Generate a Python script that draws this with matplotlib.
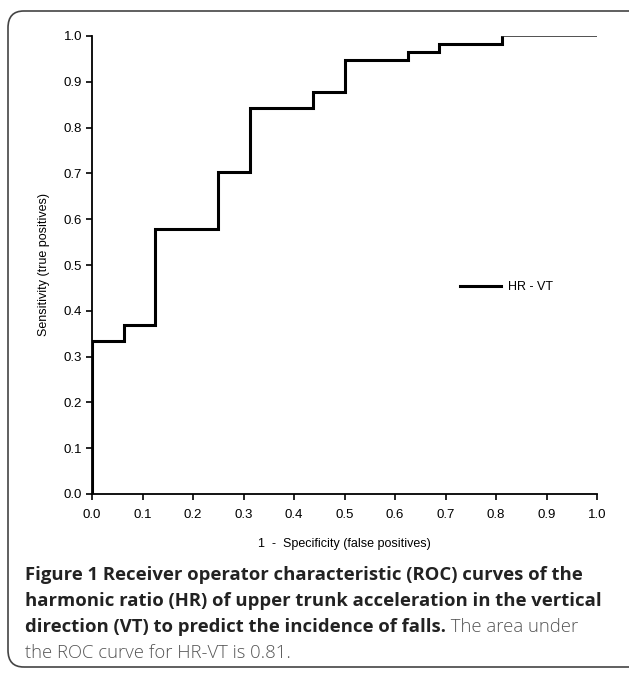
import matplotlib.pyplot as plt
from matplotlib.patches import FancyBboxPatch

# ROC steps (1 - specificity, sensitivity)
fpr = [0.0, 0.0, 0.0625, 0.0625, 0.125, 0.125, 0.25, 0.25, 0.3125, 0.3125,
       0.4375, 0.4375, 0.5, 0.5, 0.625, 0.625, 0.6875, 0.6875, 0.8125, 0.8125]
tpr = [0.0, 0.333, 0.333, 0.368, 0.368, 0.579, 0.579, 0.702, 0.702, 0.842,
       0.842, 0.877, 0.877, 0.947, 0.947, 0.965, 0.965, 0.982, 0.982, 1.0]
top_x = [0.8125, 1.0]
top_y = [1.0, 1.0]
ticks = [0.0, 0.1, 0.2, 0.3, 0.4, 0.5, 0.6, 0.7, 0.8, 0.9, 1.0]
tick_labels = ["0.0", "0.1", "0.2", "0.3", "0.4", "0.5", "0.6", "0.7", "0.8", "0.9", "1.0"]

W, H = 629, 673
fig = plt.figure(figsize=(W / 100, H / 100), dpi=100)
ax = fig.add_axes([92 / W, 1 - 494 / H, 505 / W, 458 / H])

ax.plot(fpr, tpr, color="black", lw=2.2, solid_joinstyle="miter", label="HR - VT")
ax.plot(top_x, top_y, color="#333333", lw=1.2)

ax.set_xlim(0, 1)
ax.set_ylim(0, 1)
for s in ["top", "right"]:
    ax.spines[s].set_visible(False)
for s in ["left", "bottom"]:
    ax.spines[s].set_linewidth(1.3)
ax.set_xticks(ticks)
ax.set_yticks(ticks)
ax.set_xticklabels(tick_labels)
ax.set_yticklabels(tick_labels)
ax.tick_params(direction="out", length=4, width=1.2, labelsize=9.5)
ax.tick_params(axis="x", pad=7)
ax.tick_params(axis="y", pad=3)
for lab in ax.get_xticklabels() + ax.get_yticklabels():
    lab.set_family("Liberation Sans")

ax.set_xlabel("1  -  Specificity (false positives)", family="Liberation Sans",
              fontsize=9, labelpad=12)
ax.set_ylabel("Sensitivity (true positives)", family="Liberation Sans",
              fontsize=9, labelpad=10)

leg = ax.legend(loc="center left", bbox_to_anchor=(0.728, 0.452), frameon=False,
                borderpad=0, borderaxespad=0, handlelength=3.3, handletextpad=0.6,
                prop={"family": "Liberation Sans", "size": 9})

# rounded frame around the figure panel
frame = FancyBboxPatch((8 / W, 6 / H), 640 / W, 656 / H,
                       boxstyle="round,pad=0,rounding_size=0.025",
                       transform=fig.transFigure, fill=False,
                       edgecolor="#444444", lw=1.2, clip_on=False)
fig.patches.append(frame)

# caption
cap_bold = ["Figure 1 Receiver operator characteristic (ROC) curves of the",
            "harmonic ratio (HR) of upper trunk acceleration in the vertical",
            "direction (VT) to predict the incidence of falls."]
cap_plain = ["", "", " The area under", "the ROC curve for HR-VT is 0.81."]
line_y = [580, 606, 632, 658]
fs = 13.3
renderer = fig.canvas.get_renderer()
for i, y in enumerate(line_y):
    x = 25 / W
    yy = 1 - y / H
    if i < len(cap_bold):
        t = fig.text(x, yy, cap_bold[i], family="Open Sans", weight="bold",
                     fontsize=fs, color="#222222", va="baseline")
        bb = t.get_window_extent(renderer)
        x = bb.x1 / W
    if cap_plain[i]:
        fig.text(x, yy, cap_plain[i], family="Open Sans", weight="light",
                 fontsize=fs, color="#555555", va="baseline")

fig.savefig("out.png", dpi=100)
